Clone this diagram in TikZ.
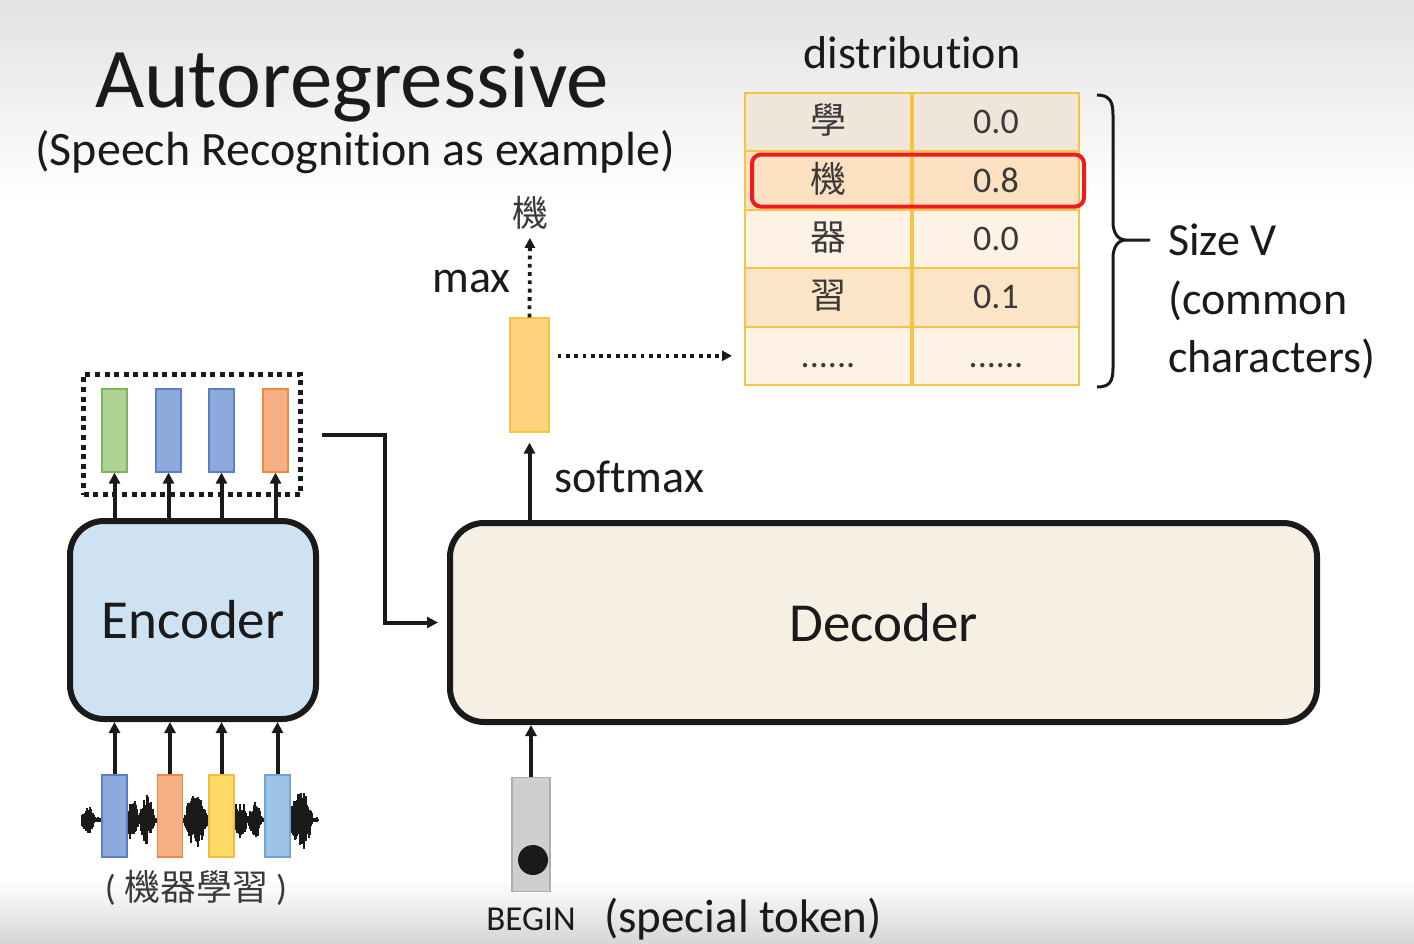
\documentclass[tikz,border=0pt]{standalone}
\usepackage{fontspec}
\setmainfont{Carlito}[Ligatures={NoCommon}]
\newfontfamily\cjk{Noto Sans CJK TC}
\usetikzlibrary{arrows.meta, positioning}

\definecolor{bgtop}{HTML}{E2E2E2}
\definecolor{bgbot}{HTML}{D6D6D6}
\definecolor{ink}{HTML}{1A1A1A}
\definecolor{cjkgray}{HTML}{3A3A3A}
\definecolor{tabedge}{HTML}{F5C445}
\definecolor{rowA}{HTML}{EFE6D9}
\definecolor{rowB}{HTML}{FBE1C2}
\definecolor{rowC}{HTML}{FDF2E3}
\definecolor{rowD}{HTML}{FCE4C6}
\definecolor{hlred}{HTML}{EE1C1C}
\definecolor{encfill}{HTML}{CFE2F2}
\definecolor{decfill}{HTML}{F6EFE4}
\definecolor{probfill}{HTML}{FDD27C}
\definecolor{gfill}{HTML}{ADD396}
\definecolor{gedge}{HTML}{7FB55A}
\definecolor{bfill}{HTML}{8EAADB}
\definecolor{bedge}{HTML}{5B7FC8}
\definecolor{ofill}{HTML}{F6B084}
\definecolor{oedge}{HTML}{EE8740}
\definecolor{yfill}{HTML}{FFD866}
\definecolor{yedge}{HTML}{F2BF3A}
\definecolor{lbfill}{HTML}{9DC3E6}
\definecolor{lbedge}{HTML}{6FA4D8}
\definecolor{tokfill}{HTML}{CFCFCF}
\definecolor{tokedge}{HTML}{ADADAD}

\newcommand{\bump}[3]{#3*max(0,1-((\x-#1)/#2)*((\x-#1)/#2))}
\newcommand{\sixdots}{......}

\tikzset{
	tri/.tip={Triangle[length=11pt, width=11pt]},
	conn/.style={draw=ink, line width=4pt, -tri},
	dotconn/.style={draw=ink, line width=3.8pt, dash pattern=on 3.8pt off 4.5pt, -{Triangle[length=10pt, width=10pt]}},
	txt/.style={font={\fontsize{#1}{#1}\selectfont}, text=ink, inner sep=0pt},
	vec/.style 2 args={draw=#1, fill=#2, line width=1.2pt, minimum width=25pt, minimum height=83pt, inner sep=0pt},
	block/.style={draw=ink, line width=6pt, rounded corners=34pt, inner sep=0pt},
	cell/.style={draw=tabedge, line width=2pt, minimum width=166pt, minimum height=58.4pt, inner sep=0pt,
		text=cjkgray, text height=23pt, text depth=0pt, font={\fontsize{36}{36}\selectfont}},
}

\begin{document}
\begin{tikzpicture}[x=1pt, y=-1pt]
	% Background
	\useasboundingbox (0,0) rectangle (1414,943);
	\fill[white] (0,0) rectangle (1414,943);
	\shade[top color=bgtop, bottom color=white] (0,0) rectangle (1414,200);
	\shade[top color=white, bottom color=bgbot] (0,880) rectangle (1414,943);
	
	% Titles
	\node[txt=85, anchor=base] (title) at (352,107) {Autoregressive};
	\node[txt=48, anchor=base] (subtitle) at (355,165) {(Speech Recognition as example)};
	
	% Encoder
	\node[block, fill=encfill, minimum width=246pt, minimum height=198pt, txt=55] (enc) at (193,620) {Encoder};
	
	% Waveform
	\pgfmathsetseed{11}
	\foreach \x in {82,...,318}{
		\pgfmathsetmacro{\amp}{3+\bump{88}{7}{12}+\bump{132}{7}{20}+\bump{147}{8}{22}+\bump{166}{5}{12}+\bump{196}{12}{26}+\bump{240}{8}{18}+\bump{255}{7}{16}+\bump{301}{12}{28}}
		\pgfmathsetmacro{\up}{\amp*(0.45+0.55*rnd)}
		\pgfmathsetmacro{\dn}{\amp*(0.45+0.55*rnd)}
		\draw[ink, line width=1.2pt] (\x,820-\up) -- (\x,820+\dn);
	}
	
	% Input vectors
	\foreach \xx/\ed/\fl [count=\i] in {114.5/bedge/bfill, 170/oedge/ofill, 221.5/yedge/yfill, 277.5/lbedge/lbfill}{
		\node[vec={\ed}{\fl}, minimum height=82pt] (ei\i) at (\xx,816) {};
		\draw[conn] (ei\i.north) -- (ei\i.north |- enc.south);
	}
	\node[txt=36, text=cjkgray] (utter) at (196,888) {( {\cjk 機器學習} )};
	
	% Encoder outputs
	\foreach \xx/\ed/\fl [count=\i] in {114.5/gedge/gfill, 168.5/bedge/bfill, 221.5/bedge/bfill, 275.5/oedge/ofill}{
		\node[vec={\ed}{\fl}] (eo\i) at (\xx,430.5) {};
		\draw[conn] (eo\i.south |- enc.north) -- (eo\i.south);
	}
	\node[draw=ink, line width=5pt, dash pattern=on 5pt off 4.6pt, minimum width=217pt, minimum height=120pt, inner sep=0pt] (encout) at (192,434.5) {};
	
	% Decoder
	\node[block, fill=decfill, minimum width=867pt, minimum height=199pt, txt=55] (dec) at (883.5,622.5) {Decoder};
	\draw[conn, shorten >=9pt] ([xshift=19pt]encout.east) -- ++(63,0) |- (dec.west);
	
	% BEGIN token
	\node[draw=tokedge, fill=tokfill, line width=1.2pt, minimum width=38pt, minimum height=114pt, inner sep=0pt] (begin) at (531,834.5) {};
	\fill[ink] ([xshift=2pt, yshift=-25.5pt]begin.center) circle (15pt);
	\draw[conn] (begin.north) -- (begin.north |- dec.south);
	\node[txt=35, anchor=base] (beginlbl) at (531,930) {BEGIN};
	\node[txt=47, anchor=base] (special) at (743,932) {(special token)};
	
	% Distribution table
	\node[txt=46, anchor=base] (distlbl) at (912,68) {distribution};
	\foreach \ch/\p/\fl [count=\i] in {{\cjk 學}/0.0/rowA, {\cjk 機}/0.8/rowB, {\cjk 器}/0.0/rowC, {\cjk 習}/0.1/rowD, \sixdots/\sixdots/rowC}{
		\node[cell, fill=\fl] (L\i) at (828,{63.8+58.4*\i}) {\ch};
		\node[cell, fill=\fl, right=0pt of L\i] (R\i) {\p};
	}
	\node[draw=hlred, line width=4pt, rounded corners=9pt, minimum width=332pt, minimum height=52pt, inner sep=0pt] (hl) at ([xshift=6pt]L2.east) {};
	
	% Brace
	\draw[ink, line width=3pt, line join=round] (1097,95) .. controls (1110,95) and (1113,102) .. (1113,115) -- (1113,222)
		.. controls (1113,233) and (1118,240) .. (1126,240) -- (1149,240) -- (1126,240)
		.. controls (1118,240) and (1113,247) .. (1113,258) -- (1113,368) .. controls (1113,381) and (1110,387) .. (1097,387);
	\node[txt=46, anchor=base west] (sz1) at (1168,255) {Size V};
	\node[txt=46, anchor=base west] (sz2) at (1168,314) {(common};
	\node[txt=46, anchor=base west] (sz3) at (1168,372) {characters)};
	
	% Softmax output
	\node[draw=tabedge, fill=probfill, line width=1.2pt, minimum width=39pt, minimum height=114pt, inner sep=0pt] (prob) at (529.5,375) {};
	\draw[conn, shorten >=10pt] (prob.south |- dec.north) -- (prob.south);
	\node[txt=46, anchor=base west] (softlbl) at (554,492) {softmax};
	\node[txt=36, text=cjkgray] (outchar) at (530,213) {\cjk 機};
	\draw[dotconn, shorten >=8pt] (prob.north) -- (outchar.south);
	\node[txt=46, anchor=base east] (maxlbl) at (511,292) {max};
	\draw[dotconn, shorten <=8pt, shorten >=12pt] (prob.east |- L5.west) -- (L5.west);
\end{tikzpicture}
\end{document}
